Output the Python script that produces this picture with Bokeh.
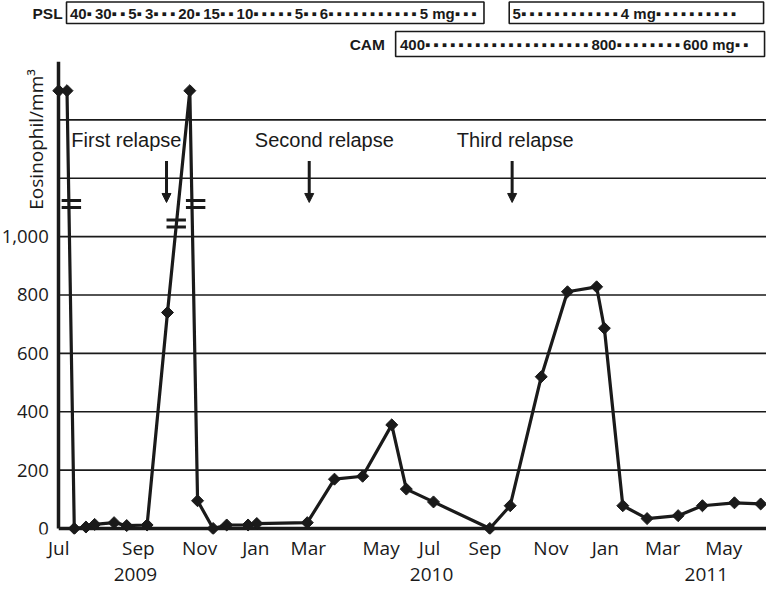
import math
from bokeh.plotting import figure
from bokeh.models import Range1d, FixedTicker, LinearAxis, Label, Arrow, NormalHead
from bokeh.layouts import column
from bokeh.embed import file_html
from bokeh.resources import INLINE
from bokeh.core.properties import value

# ---------------- data ----------------
# position along the (non-uniform) time axis, in axis units
time_pos = [0.0, 0.85, 1.6, 2.8, 3.7, 5.7, 7.0, 9.1, 11.2, 13.5, 14.3, 15.9, 17.3, 19.5, 20.4,
            25.6, 28.4, 31.3, 34.3, 35.8, 38.6, 44.4, 46.5, 49.7, 52.4, 55.4, 56.2, 58.1,
            60.6, 63.8, 66.3, 69.6, 72.3]
# eosinophil count /mm3 (1500 = off-scale values drawn above the axis break)
eos = [1500, 1500, 0, 5, 14, 20, 10, 12, 740, 1500, 95, 0, 12, 12, 17,
       20, 169, 179, 355, 135, 91, 0, 78, 520, 811, 828, 686, 78,
       34, 44, 78, 88, 84]

month_pos = [0.0, 8.2, 14.5, 20.3, 25.7, 33.2, 38.2, 43.9, 50.7, 56.3, 62.2, 68.5]
month_labels = ["Jul", "Sep", "Nov", "Jan", "Mar", "May", "Jul", "Sep", "Nov", "Jan", "Mar", "May"]
year_pos = [7.9, 38.4, 66.7]
year_labels = ["2009", "2010", "2011"]

y_ticks = [0, 200, 400, 600, 800, 1000]
grid_levels = [200, 400, 600, 800, 1000, 1200, 1400]

relapse_pos = [11.1, 25.8, 46.7]
relapse_text_pos = [1.3, 20.2, 41.0]
relapse_labels = ["First relapse", "Second relapse", "Third relapse"]

break_pos = [1.3, 12.1, 14.1]
break_levels = [1112, 1045, 1112]

psl_start = [0.8, 46.4]
psl_end = [43.8, 72.6]
psl_text = ["40▪30▪▪5▪3▪▪▪20▪15▪▪10▪▪▪▪▪5▪▪6▪▪▪▪▪▪▪▪▪▪▪5 mg▪▪▪",
            "5▪▪▪▪▪▪▪▪▪▪▪▪4 mg▪▪▪▪▪▪▪▪▪▪"]
cam_start = [34.7]
cam_end = [72.7]
cam_text = ["400▪▪▪▪▪▪▪▪▪▪▪▪▪▪▪▪▪▪▪▪800▪▪▪▪▪▪▪▪600 mg▪▪"]

# ---------------- layout constants ----------------
W = 766
X_START, X_END = -6.0, 72.9
INK = "#1a1a1a"
TICK_FONT = "Open Sans"
ARIAL = "Liberation Sans"
TOP_H = 58


def dotted(t):
    # widen the small square separators with a thin space
    return t.replace("▪", "▪\u2009")


x_range = Range1d(X_START, X_END)

# ---------------- top panel (treatment) ----------------
top = figure(width=W, height=TOP_H, x_range=x_range, y_range=Range1d(TOP_H, 0),
             output_backend="svg", toolbar_location=None,
             min_border_left=0, min_border_right=0, min_border_top=0, min_border_bottom=0)
top.axis.visible = False
top.grid.visible = False
top.outline_line_color = None

top.quad(left=psl_start, right=psl_end, top=[1.5] * len(psl_start), bottom=[23] * len(psl_start),
         fill_color=None, line_color=INK, line_width=1.6)
top.quad(left=cam_start, right=cam_end, top=[31] * len(cam_start), bottom=[56] * len(cam_start),
         fill_color=None, line_color=INK, line_width=1.6)
top.text(x=[s + 0.35 for s in psl_start], y=[12.5] * len(psl_start), text=[dotted(t) for t in psl_text],
         text_font=value(ARIAL), text_font_style="bold", text_font_size="15px",
         text_baseline="middle", text_align="left", text_color=INK)
top.text(x=[s + 0.45 for s in cam_start], y=[44] * len(cam_start), text=[dotted(t) for t in cam_text],
         text_font=value(ARIAL), text_font_style="bold", text_font_size="15px",
         text_baseline="middle", text_align="left", text_color=INK)
top.text(x=[psl_start[0] - 0.4, cam_start[0] - 1.1], y=[12.5, 44], text=["PSL", "CAM"],
         text_font=value(ARIAL), text_font_style="bold", text_font_size="15.5px",
         text_baseline="middle", text_align="right", text_color=INK)

# ---------------- main chart ----------------
p = figure(width=W, height=588 - TOP_H, x_range=x_range, y_range=Range1d(-20.6, 1600),
           output_backend="svg", toolbar_location=None,
           min_border_left=0, min_border_right=0, min_border_top=3, min_border_bottom=54)
p.outline_line_color = None
p.grid.visible = False

# horizontal gridlines (from the y axis to the right edge)
p.segment(x0=[0] * len(grid_levels), x1=[X_END] * len(grid_levels), y0=grid_levels, y1=grid_levels,
          line_color=INK, line_width=1.6)
# x axis line at zero
p.segment(x0=[0], x1=[X_END], y0=[0], y1=[0], line_color=INK, line_width=3.5)

# y axis at x = 0
p.yaxis.fixed_location = 0
p.yaxis.bounds = (0, 1600)
p.yaxis.ticker = FixedTicker(ticks=y_ticks)
p.yaxis.major_label_overrides = {1000: "1,000"}
p.yaxis.axis_line_width = 3.5
p.yaxis.axis_line_color = INK
p.yaxis.major_tick_line_color = None
p.yaxis.minor_tick_line_color = None
p.yaxis.major_label_standoff = 4
p.yaxis.major_label_text_font = TICK_FONT
p.yaxis.major_label_text_font_size = "18.5px"
p.yaxis.major_label_text_color = INK

# month axis
p.xaxis.ticker = FixedTicker(ticks=month_pos)
p.xaxis.major_label_overrides = {pos: lab for pos, lab in zip(month_pos, month_labels)}
p.xaxis.axis_line_color = None
p.xaxis.major_tick_line_color = None
p.xaxis.minor_tick_line_color = None
p.xaxis.major_label_standoff = -6
p.xaxis.major_label_text_font = TICK_FONT
p.xaxis.major_label_text_font_size = "19px"
p.xaxis.major_label_text_color = INK

# year axis
yax = LinearAxis(ticker=FixedTicker(ticks=year_pos),
                 major_label_overrides={pos: lab for pos, lab in zip(year_pos, year_labels)})
yax.axis_line_color = None
yax.major_tick_line_color = None
yax.minor_tick_line_color = None
yax.major_label_standoff = -2
yax.major_label_text_font = TICK_FONT
yax.major_label_text_font_size = "19px"
yax.major_label_text_color = INK
p.add_layout(yax, "below")

# y axis title
p.add_layout(Label(x=-2.3, y=1333, text="Eosinophil/mm³", angle=math.pi / 2,
                   text_font=TICK_FONT, text_font_size="19px", text_align="center",
                   text_baseline="middle", text_color=INK))

# data line + markers
p.line(time_pos, eos, line_color=INK, line_width=3.2)
p.scatter(time_pos, eos, marker="square", angle=math.pi / 4, size=8.5,
          fill_color=INK, line_color=INK)

# axis-break marks
half = 1.0
for bx, by in zip(break_pos, break_levels):
    p.segment(x0=[bx - half, bx - half], x1=[bx + half, bx + half],
              y0=[by + 12, by - 12], y1=[by + 12, by - 12], line_color=INK, line_width=3)

# relapse annotations
p.text(x=relapse_text_pos, y=[1330] * 3, text=relapse_labels, text_font=value(ARIAL),
       text_font_size="20px", text_baseline="middle", text_align="left", text_color=INK)
for rx in relapse_pos:
    p.add_layout(Arrow(x_start=rx, y_start=1259, x_end=rx, y_end=1117, line_width=3,
                       line_color=INK,
                       end=NormalHead(size=9, fill_color=INK, line_color=INK)))

layout = column(top, p)
open("out.html", "w").write(file_html(layout, INLINE))
